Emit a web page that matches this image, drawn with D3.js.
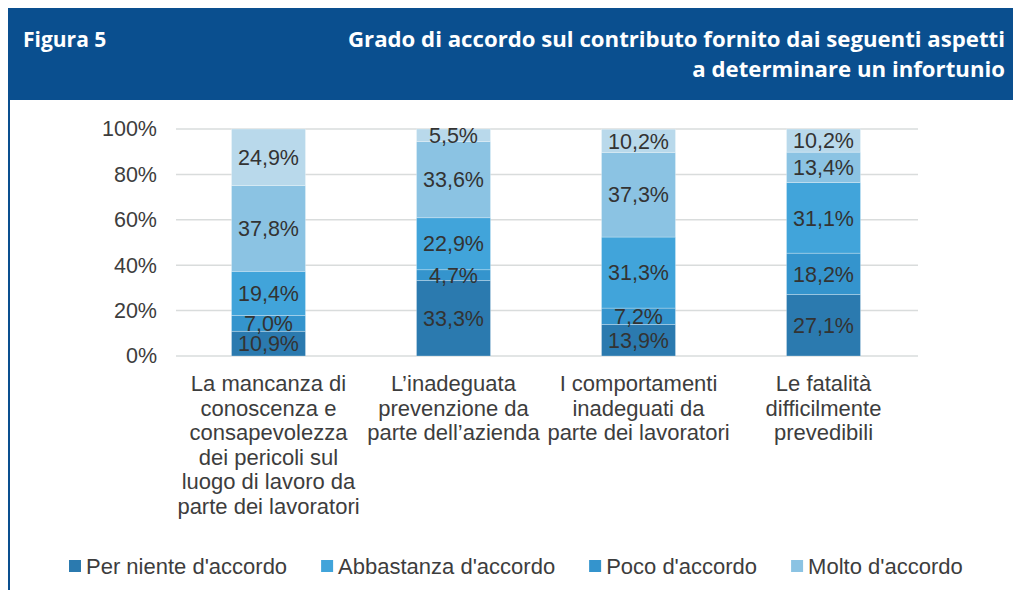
<!DOCTYPE html>
<html>
<head>
<meta charset="utf-8">
<script src="https://cdn.jsdelivr.net/npm/d3@7"></script>
<style>
  body { margin: 0; background: #fff; }
  svg { display: block; }
</style>
</head>
<body>
<div id="chart"></div>
<script>
// data
var categoryLines = [
	["La mancanza di", "conoscenza e", "consapevolezza", "dei pericoli sul", "luogo di lavoro da", "parte dei lavoratori"],
	["L\u2019inadeguata", "prevenzione da", "parte dell\u2019azienda"],
	["I comportamenti", "inadeguati da", "parte dei lavoratori"],
	["Le fatalit\u00e0", "difficilmente", "prevedibili"]
];
var categories = categoryLines.map(d => d.join(" "));

var seriesNames = ["Per niente d'accordo", "Poco d'accordo", "Abbastanza d'accordo", "Molto d'accordo", "Del tutto d'accordo"];
var perNiente  = [10.9, 33.3, 13.9, 27.1];
var poco       = [7.0, 4.7, 7.2, 18.2];
var abbastanza = [19.4, 22.9, 31.3, 31.1];
var molto      = [37.8, 33.6, 37.3, 13.4];
var delTutto   = [24.9, 5.5, 10.2, 10.2];
var seriesValues = [perNiente, poco, abbastanza, molto, delTutto];

var yTicks = [0, 20, 40, 60, 80, 100];
var legendOrder = ["Per niente d'accordo", "Abbastanza d'accordo", "Poco d'accordo", "Molto d'accordo"];

var colors = ["#2b7aaf", "#3494cd", "#41a4da", "#8bc3e3", "#b9d9eb"];

// set the dimensions
var W = 1013, H = 590;
var blue = "#0a4f8f";
var textCol = "#3d3d3d";
var font = "'Liberation Sans', Arial, sans-serif";

var svg = d3.select("#chart")
	.append("svg")
	.attr("width", W)
	.attr("height", H);

// header band
svg.append("rect")
	.attr("x", 8).attr("y", 8)
	.attr("width", W - 8).attr("height", 92)
	.attr("fill", blue);
svg.append("line")
	.attr("x1", 9).attr("x2", 9)
	.attr("y1", 100).attr("y2", H)
	.attr("stroke", blue).attr("stroke-width", 2);

var head = svg.append("g")
	.attr("fill", "#fff")
	.style("font-family", "'Open Sans', sans-serif")
	.style("font-weight", "bold")
	.style("font-size", "21px");
head.append("text").attr("x", 23).attr("y", 47).text("Figura 5");
var t1 = head.append("text").attr("x", 1005).attr("y", 47).attr("text-anchor", "end")
	.text("Grado di accordo sul contributo fornito dai seguenti aspetti");
var t2 = head.append("text").attr("x", 1005).attr("y", 77).attr("text-anchor", "end")
	.text("a determinare un infortunio");
// squeeze the header lines to the condensed look of the original
var squeeze = 657 / t1.node().getComputedTextLength();
[t1, t2].forEach(t => {
	var w = t.node().getComputedTextLength() * squeeze;
	t.attr("textLength", w).attr("lengthAdjust", "spacingAndGlyphs");
});

// scales
var x = d3.scaleBand()
	.domain(categories)
	.range([176, 916])
	.paddingInner(0.6)
	.paddingOuter(0.3);

var y = d3.scaleLinear()
	.domain([0, 100])
	.range([356, 129]);

// gridlines
svg.append("g")
	.selectAll("line")
	.data(yTicks)
	.join("line")
	.attr("x1", 176).attr("x2", 918)
	.attr("y1", d => y(d)).attr("y2", d => y(d))
	.attr("stroke", "#d9dcdc")
	.attr("stroke-width", 1.5);

// Y axis
var yAxis = svg.append("g")
	.attr("transform", "translate(176,0)")
	.call(d3.axisLeft(y).tickValues(yTicks).tickSize(0).tickPadding(19).tickFormat(d => d + "%"));
yAxis.select(".domain").remove();
yAxis.selectAll("text")
	.attr("fill", textCol)
	.style("font-family", font)
	.style("font-size", "21.5px");

// stacked bars
var rows = categories.map((c, i) => {
	var r = { cat: c };
	seriesNames.forEach((s, j) => r[s] = seriesValues[j][i]);
	return r;
});
var stacked = d3.stack().keys(seriesNames)(rows);
var it = d3.formatLocale({ decimal: ",", thousands: ".", grouping: [3], currency: ["", "\u20ac"] });
var fmt = it.format(".1f");

svg.append("g")
	.selectAll("g")
	.data(stacked)
	.join("g")
	.attr("fill", (d, i) => colors[i])
	.selectAll("rect")
	.data(d => d)
	.join("rect")
	.attr("x", d => x(d.data.cat))
	.attr("width", x.bandwidth())
	.attr("y", d => y(d[1]))
	.attr("height", d => y(d[0]) - y(d[1]))
	.attr("stroke", "#fff")
	.attr("stroke-opacity", 0.35)
	.attr("stroke-width", 0.75);

// value labels drawn on top of all segments
var labels = stacked.flatMap(s => s.map(p => ({ p: p, key: s.key })));
svg.append("g")
	.selectAll("text")
	.data(labels)
	.join("text")
	.attr("x", d => x(d.p.data.cat) + x.bandwidth() / 2)
	.attr("y", d => (y(d.p[0]) + y(d.p[1])) / 2)
	.attr("dy", "0.36em")
	.attr("text-anchor", "middle")
	.attr("fill", "#333")
	.style("font-family", font)
	.style("font-size", "21.5px")
	.text(d => fmt(d.p.data[d.key]) + "%");

// category labels
svg.append("g")
	.selectAll("text")
	.data(categories)
	.join("text")
	.attr("x", d => x(d) + x.bandwidth() / 2)
	.attr("y", 391)
	.attr("text-anchor", "middle")
	.attr("fill", textCol)
	.style("font-family", font)
	.style("font-size", "22px")
	.each(function (d, i) {
		d3.select(this).selectAll("tspan")
			.data(categoryLines[i])
			.join("tspan")
			.attr("x", x(d) + x.bandwidth() / 2)
			.attr("dy", (l, k) => k === 0 ? 0 : 24.6)
			.text(l => l);
	});

// legend
var lg = svg.append("g");
var lx = 69;
legendOrder.forEach(name => {
	var item = lg.append("g").attr("transform", "translate(" + lx + ",566)");
	item.append("rect")
		.attr("x", 0).attr("y", -6)
		.attr("width", 12).attr("height", 12)
		.attr("fill", colors[seriesNames.indexOf(name)]);
	var t = item.append("text")
		.attr("x", 17)
		.attr("dy", "0.36em")
		.attr("fill", textCol)
		.style("font-family", font)
		.style("font-size", "22px")
		.text(name);
	lx += 17 + t.node().getComputedTextLength() + 34;
});
</script>
</body>
</html>
